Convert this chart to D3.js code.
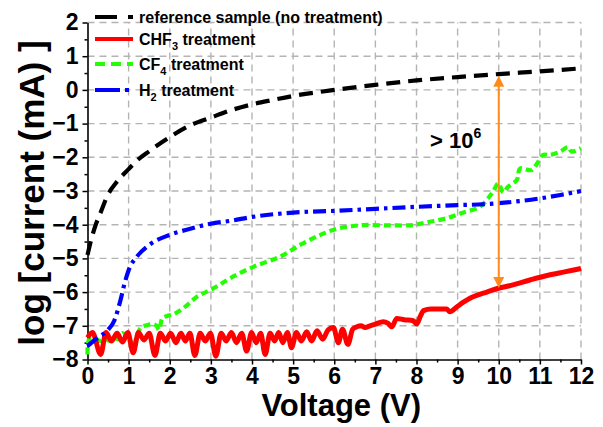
<!DOCTYPE html>
<html><head><meta charset="utf-8">
<script src="https://cdn.jsdelivr.net/npm/d3@7"></script>
<style>
body{margin:0;background:#fff}
svg{display:block}
text{font-family:"Liberation Sans",Arial,Helvetica,sans-serif;font-weight:bold;fill:#000}
</style>
</head><body>
<svg id="chart" width="603" height="427"></svg>
<script>
// ---------- data ----------
const xTickValues = [0,1,2,3,4,5,6,7,8,9,10,11,12];
const yTickValues = [-8,-7,-6,-5,-4,-3,-2,-1,0,1,2];
const seriesNames = ["reference sample (no treatment)", "CHF3 treatment", "CF4 treatment", "H2 treatment"];

const refV = [0,0.1,0.2,0.3,0.5,0.7,1.0,1.2,1.5,2.0,2.5,3.0,3.5,4.0,4.5,5.0,6.0,7.0,8.0,9.0,10.0,11.0,12.0];
const refI = [-4.9,-4.4,-4.0,-3.7,-3.1,-2.75,-2.35,-2.1,-1.82,-1.4,-1.05,-0.82,-0.6,-0.43,-0.3,-0.18,0.0,0.15,0.28,0.38,0.47,0.55,0.64];

const chfV = [0,0.12,0.32,0.45,0.58,0.72,0.85,0.98,1.11,1.24,1.37,1.5,1.64,1.77,1.9,2.02,2.15,2.27,2.38,2.49,2.61,2.74,2.86,2.99,3.12,3.25,3.37,3.5,3.62,3.75,3.87,3.99,4.1,4.21,4.32,4.44,4.55,4.65,4.75,4.86,4.96,5.08,5.2,5.33,5.45,5.58,5.72,5.85,5.98,6.1,6.2,6.33,6.45,6.55,6.65,6.75,6.87,7.0,7.19,7.3,7.4,7.52,7.7,7.92,8.0,8.1,8.17,8.35,8.49,8.73,8.81,9.0,9.14,9.3,9.5,9.71,9.95,10.3,10.76,11.2,11.6,12.0];
const chfI = [-7.35,-7.2,-7.85,-7.2,-7.45,-7.22,-7.48,-7.2,-7.8,-7.2,-7.42,-7.22,-7.88,-7.22,-7.45,-7.22,-7.5,-7.22,-7.45,-7.22,-7.88,-7.22,-7.45,-7.22,-7.9,-7.22,-7.45,-7.2,-7.5,-7.22,-7.75,-7.2,-7.5,-7.22,-7.85,-7.22,-7.45,-7.2,-7.5,-7.2,-7.65,-7.2,-7.45,-7.18,-7.45,-7.15,-7.4,-7.12,-7.05,-7.5,-7.1,-7.55,-7.1,-7.03,-7.0,-7.05,-7.0,-6.95,-6.88,-6.92,-7.03,-6.78,-6.82,-6.85,-6.95,-6.7,-6.55,-6.5,-6.5,-6.5,-6.58,-6.42,-6.3,-6.18,-6.08,-6.0,-5.9,-5.8,-5.64,-5.5,-5.4,-5.3];

const cf4V = [0,0.04,0.15,0.3,0.45,0.55,0.65,0.75,0.85,0.95,1.05,1.12,1.2,1.3,1.45,1.6,1.68,1.74,1.82,1.95,2.1,2.33,2.66,3.06,3.47,4.03,4.68,5.17,5.65,6.06,6.4,6.71,7.3,7.92,8.3,8.73,9.1,9.54,9.75,9.87,9.99,10.11,10.23,10.44,10.52,10.8,10.96,11.08,11.25,11.49,11.69,11.77,12.0];
const cf4I = [-7.85,-7.4,-7.35,-7.45,-7.4,-7.45,-7.35,-7.4,-7.22,-7.3,-7.45,-7.65,-7.3,-7.05,-6.98,-6.95,-7.0,-7.12,-6.78,-6.7,-6.65,-6.48,-6.14,-5.89,-5.59,-5.25,-4.95,-4.6,-4.31,-4.12,-4.05,-4.01,-4.02,-4.01,-3.92,-3.81,-3.65,-3.47,-3.2,-3.0,-2.77,-3.04,-2.87,-2.67,-2.33,-2.38,-2.13,-1.93,-1.93,-1.83,-1.7,-1.83,-1.73];

const h2V = [0,0.25,0.5,0.65,0.8,0.9,1.0,1.2,1.5,2.0,2.5,3.0,3.5,4.0,5.0,6.0,7.0,8.0,9.0,9.5,10.0,10.5,11.0,11.5,12.0];
const h2I = [-7.6,-7.35,-7.12,-6.85,-6.25,-5.75,-5.35,-4.95,-4.6,-4.3,-4.12,-3.97,-3.88,-3.77,-3.64,-3.59,-3.53,-3.47,-3.42,-3.4,-3.36,-3.3,-3.22,-3.12,-3.0];

const arrowV = 10;
const arrowFrom = 0.42;
const arrowTo = -5.88;
const ratioLabel = "> 10";
const ratioExp = "6";

// ---------- layout ----------
const svg = d3.select("#chart");
const mLeft = 87.5, mRight = 581, mTop = 22.5, mBottom = 359.5;
const x = d3.scaleLinear().domain([0,12]).range([mLeft,mRight]);
const y = d3.scaleLinear().domain([-8,2]).range([mBottom,mTop]);

// grid
const grid = svg.append("g").attr("stroke","#b4b4b4").attr("stroke-width",1.4).attr("stroke-dasharray","7,5");
grid.selectAll("line.v").data(xTickValues.filter(d=>d>0)).join("line").attr("class","v")
  .attr("x1",d=>x(d)).attr("x2",d=>x(d)).attr("y1",mBottom).attr("y2",mTop);
grid.selectAll("line.h").data(yTickValues.filter(d=>d>-8)).join("line").attr("class","h")
  .attr("y1",d=>y(d)).attr("y2",d=>y(d)).attr("x1",mLeft).attr("x2",mRight);

// axes
const fmt = d3.format("d");
const minorX = d3.range(0.5,12,1);
const minorY = d3.range(-7.5,2,1);

const gx = svg.append("g").attr("transform",`translate(0,${mBottom})`)
  .call(d3.axisBottom(x).tickValues(xTickValues).tickFormat(fmt).tickSize(5).tickSizeOuter(0).tickPadding(3));
svg.append("g").attr("transform",`translate(0,${mBottom})`)
  .call(d3.axisBottom(x).tickValues(minorX).tickFormat("").tickSize(3).tickSizeOuter(0))
  .call(g=>g.select(".domain").remove());
const gy = svg.append("g").attr("transform",`translate(${mLeft},0)`)
  .call(d3.axisLeft(y).tickValues(yTickValues).tickFormat(fmt).tickSize(5).tickSizeOuter(0).tickPadding(4));
svg.append("g").attr("transform",`translate(${mLeft},0)`)
  .call(d3.axisLeft(y).tickValues(minorY).tickFormat("").tickSize(3).tickSizeOuter(0))
  .call(g=>g.select(".domain").remove());

svg.selectAll(".tick line").attr("stroke","#000").attr("stroke-width",1.5);
svg.selectAll(".domain").attr("stroke","#000").attr("stroke-width",1.6);
[gx,gy].forEach(g=>g.selectAll(".tick text").attr("font-size",23)
  .attr("font-family",'"Liberation Sans",Arial,sans-serif').attr("font-weight","bold").attr("fill","#000"));

// axis titles
svg.append("text").attr("x",(mLeft+mRight)/2+7).attr("y",416).attr("text-anchor","middle")
  .attr("font-size",31).text("Voltage (V)");
svg.append("text").attr("transform",`translate(44,${(mTop+mBottom)/2+2}) rotate(-90)`).attr("text-anchor","middle")
  .attr("font-size",35).text("log [current (mA) ]");

// lines
const mk = (vs,is)=>vs.map((v,i)=>[v,is[i]]);
const line = d3.line().x(d=>x(d[0])).y(d=>y(d[1])).curve(d3.curveMonotoneX);
const smooth = d3.line().x(d=>x(d[0])).y(d=>y(d[1])).curve(d3.curveCatmullRom.alpha(0.5));

const plot = svg.append("g");
plot.append("path").datum(mk(cf4V,cf4I)).attr("d",smooth).attr("fill","none")
  .attr("stroke","#22ff00").attr("stroke-width",4.2).attr("stroke-dasharray","7,4");
plot.append("path").datum(mk(chfV,chfI)).attr("d",line).attr("fill","none")
  .attr("stroke","#ff0000").attr("stroke-width",5).attr("stroke-linejoin","round");
plot.append("path").datum(mk(h2V,h2I)).attr("d",line).attr("fill","none")
  .attr("stroke","#0000ff").attr("stroke-width",4.2).attr("stroke-dasharray","13,5,3.5,5");
plot.append("path").datum(mk(refV,refI)).attr("d",line).attr("fill","none")
  .attr("stroke","#000").attr("stroke-width",4.2).attr("stroke-dasharray","14,8");

// arrow
const orange = "#ff8c1a";
const ax = x(arrowV), ay1 = y(arrowFrom), ay2 = y(arrowTo);
plot.append("line").attr("x1",ax).attr("x2",ax).attr("y1",ay1+8).attr("y2",ay2-8)
  .attr("stroke",orange).attr("stroke-width",2);
plot.append("path").attr("d",`M${ax},${ay1} L${ax-5.5},${ay1+11} L${ax+5.5},${ay1+11} Z`).attr("fill",orange);
plot.append("path").attr("d",`M${ax},${ay2} L${ax-5.5},${ay2-11} L${ax+5.5},${ay2-11} Z`).attr("fill",orange);

const rt = svg.append("text").attr("x",430).attr("y",148).attr("font-size",22);
rt.append("tspan").text(ratioLabel);
rt.append("tspan").attr("dy",-10).attr("font-size",14).text(ratioExp);

// legend
const legItems = [
  {name:["reference sample (no treatment)"], color:"#000", dash:"22,11", y:17},
  {name:["CHF","3"," treatment"], color:"#ff0000", dash:null, y:39},
  {name:["CF","4"," treatment"], color:"#22ff00", dash:"10,6", y:64},
  {name:["H","2"," treatment"], color:"#0000ff", dash:"25,5,4,5", y:90}
];
const leg = svg.append("g");
legItems.forEach((it)=>{
  leg.append("line").attr("x1",95).attr("x2",133).attr("y1",it.y).attr("y2",it.y)
    .attr("stroke",it.color).attr("stroke-width",4.2).attr("stroke-dasharray",it.dash);
  const t = leg.append("text").attr("x",139).attr("y",it.y+6).attr("font-size",16);
  t.append("tspan").text(it.name[0]);
  if(it.name.length>1){
    t.append("tspan").attr("dy",5).attr("font-size",11).text(it.name[1]);
    t.append("tspan").attr("dy",-5).text(it.name[2]);
  }
});
</script>
</body></html>
